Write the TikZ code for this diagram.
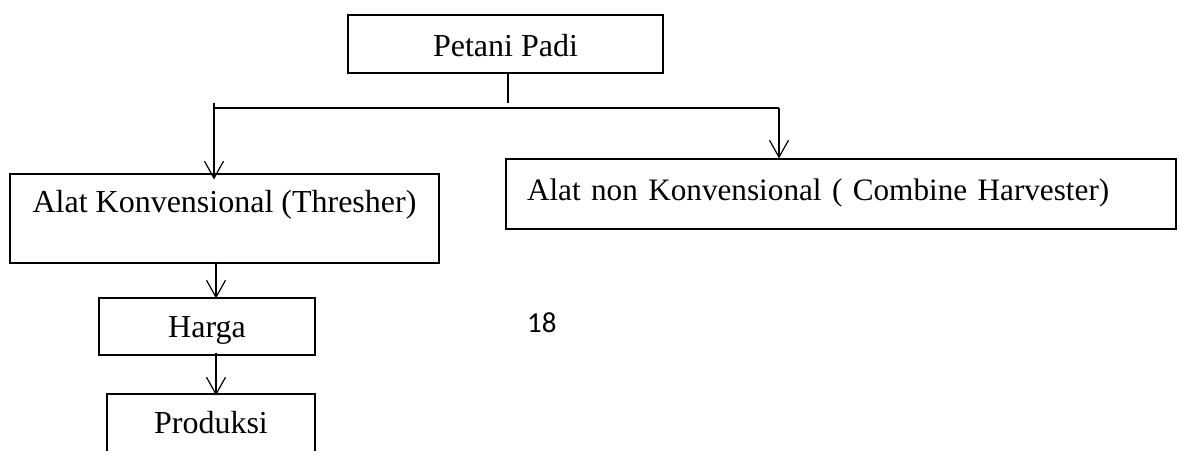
\documentclass[tikz,border=0pt]{standalone}
\usepackage{fontspec}
\setmainfont{Liberation Serif}
\newfontfamily\numfont{Carlito}
\usetikzlibrary{arrows.meta}

\begin{document}
\begin{tikzpicture}[x=1pt,y=-1pt,
    kotak/.style={draw,line width=1.1pt,inner sep=0pt,anchor=base,font=\fontsize{32}{38}\selectfont},
    panah/.style={line width=1.2pt,-{Straight Barb[length=17pt,width=19pt,line width=1.2pt]}}]

  \clip (0,0) rectangle (1180,450);

  \node[kotak,minimum width=315pt,text height=41pt,text depth=17pt] (petani) at (505.5,56) {Petani Padi};
  \node[kotak,minimum width=429pt,text height=38pt,text depth=51pt] (alatk) at (224.5,212) {Alat Konvensional (Thresher)};
  \node[kotak,font=\fontsize{31.2}{37}\selectfont,inner xsep=21pt,text width=628pt,align=left,text height=41pt,text depth=29pt] (alatnk) at (841,200) {Alat non Konvensional ( Combine Harvester)};
  \node[kotak,minimum width=216pt,text height=39pt,text depth=18pt] (harga) at (207,337) {Harga};
  \node[kotak,minimum width=208pt,text height=39pt,text depth=40pt] (produksi) at (211,433) {Produksi};

  \node[font=\numfont\fontsize{29}{33}\selectfont,anchor=base west,inner sep=0pt] (hal) at (527,332) {18};

  \coordinate (bagi) at (508,108);
  \coordinate (kiri) at (214,108);
  \coordinate (kanan) at (779,108);
  \coordinate (bawah) at (216,0);

  \draw[line width=1.2pt] (petani.south -| bagi) -- ([yshift=5pt]bagi);
  \draw[line width=2pt] (kiri) -- (kanan);
  \draw[panah] ([yshift=5pt]kiri) -- ([yshift=-6pt]alatk.north -| kiri);
  \draw[panah] (kanan) -- (alatnk.north -| kanan);
  \draw[panah] ([yshift=2pt]alatk.south -| bawah) -- ([yshift=-1pt]harga.north -| bawah);
  \draw[panah] ([yshift=3pt]harga.south -| bawah) -- ([yshift=-2pt]produksi.north -| bawah);

\end{tikzpicture}
\end{document}
